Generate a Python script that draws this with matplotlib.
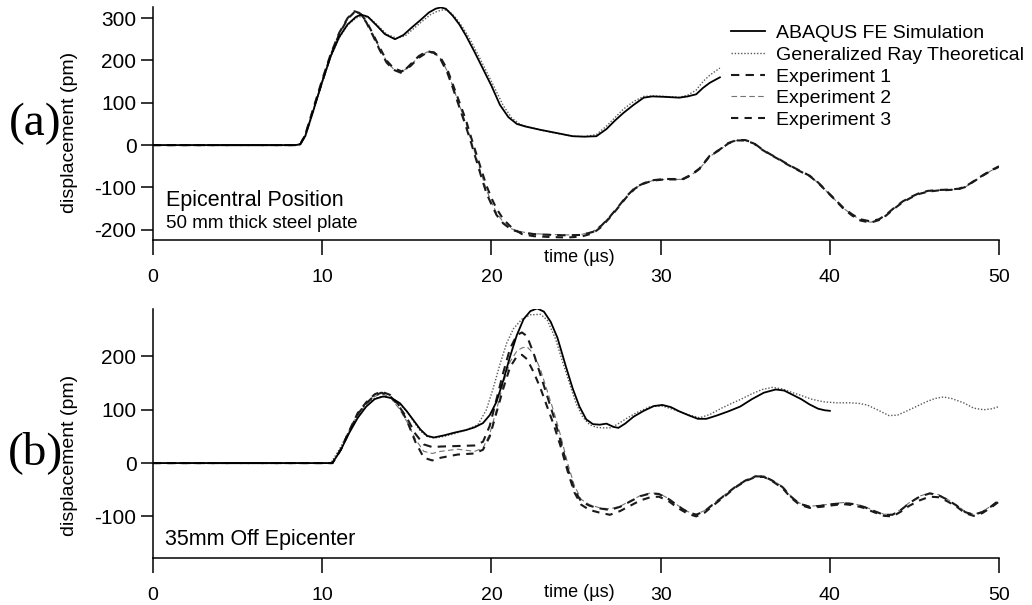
import matplotlib
matplotlib.use("Agg")
import matplotlib.pyplot as plt

plt.rcParams["font.family"] = ["Liberation Sans", "DejaVu Sans"]
plt.rcParams["axes.unicode_minus"] = False

# ---- panel (a): epicentral position ----
t_a_sim = [0, 8.4, 8.7, 9.0, 9.5, 10.0, 10.5, 11.0, 11.5, 12.0, 12.3, 12.7, 13.2, 13.7, 14.3,
           14.8, 15.3, 15.8, 16.3, 16.7, 17.0, 17.3, 17.7, 18.1, 18.5, 19.0, 19.5, 20.0, 20.5,
           21.0, 21.5, 22.0, 22.9, 23.8, 24.8, 25.5, 26.2, 26.8, 27.3, 27.8, 28.4, 29.0, 29.5,
           30.2, 31.1, 31.6, 32.1, 32.5, 32.9, 33.5]
d_a_sim = [0, 0, 2, 22, 85, 150, 210, 255, 285, 303, 308, 303, 283, 262, 250,
           260, 278, 295, 313, 322, 325, 322, 306, 285, 258, 220, 180, 140, 95,
           66, 50, 44, 36, 29, 21, 20, 21, 38, 58, 76, 95, 112, 115,
           114, 112, 115, 120, 135, 147, 160]

t_a_ray = [0, 8.4, 8.7, 9.0, 9.5, 10.0, 10.5, 11.0, 11.5, 12.0, 12.4, 12.8, 13.3, 13.8, 14.4,
           14.9, 15.4, 15.9, 16.4, 16.8, 17.2, 17.5, 17.9, 18.3, 18.7, 19.2, 19.7, 20.2, 20.7,
           21.2, 21.7, 22.2, 23.0, 23.8, 24.8, 25.5, 26.2, 26.8, 27.3, 27.8, 28.4, 29.0, 29.5,
           30.2, 31.1, 31.6, 32.1, 32.5, 32.9, 33.5]
d_a_ray = [0, 0, 2, 20, 82, 148, 208, 253, 283, 300, 305, 300, 282, 262, 252,
           258, 275, 292, 308, 316, 320, 316, 300, 278, 252, 214, 174, 134, 93,
           64, 49, 43, 35, 28, 21, 20, 25, 45, 65, 85, 103, 115, 116,
           115, 113, 118, 130, 150, 165, 182]

t_a_exp = [0, 8.4, 8.7, 9.0, 9.5, 10.0, 10.5, 11.0, 11.5, 11.9, 12.2, 12.6, 13.0, 13.4, 13.8,
           14.2, 14.7, 15.2, 15.7, 16.2, 16.6, 17.0, 17.4, 17.7, 18.1, 18.5, 18.8, 19.1, 19.4,
           19.7, 20.0, 20.3, 20.7, 21.2, 21.8, 22.5, 23.5, 24.5, 25.3, 26.0, 26.5, 27.0, 27.5,
           28.0, 28.5, 29.0, 29.5, 30.2, 30.8, 31.3, 31.8, 32.3, 32.9, 33.5, 34.0, 34.5, 35.0,
           35.5, 36.0, 36.5, 37.0, 37.5, 38.2, 38.8, 39.3, 39.8, 40.3, 40.8, 41.3, 41.8, 42.4,
           42.9, 43.3, 43.8, 44.3, 44.8, 45.3, 45.8, 46.4, 47.0, 47.6, 48.0, 48.5, 49.0, 49.5, 50.0]
d_a_exp1 = [0, 0, 2, 25, 90, 155, 215, 265, 300, 316, 312, 290, 258, 224, 195,
            178, 170, 190, 210, 222, 218, 202, 170, 137, 90, 43, 5, -35, -75,
            -113, -140, -165, -185, -200, -207, -210, -212, -213, -212, -205, -190, -169, -145,
            -120, -100, -90, -83, -80, -80, -80, -70, -55, -25, -10, 5, 12, 12,
            5, -10, -22, -33, -45, -60, -72, -88, -108, -128, -148, -163, -175, -180,
            -175, -165, -148, -133, -122, -113, -108, -106, -105, -103, -98, -85, -72, -60, -50]
d_a_exp2 = [0, 0, 2, 24, 88, 152, 212, 262, 298, 312, 310, 292, 262, 228, 198,
            180, 172, 188, 208, 220, 218, 204, 174, 140, 95, 50, 10, -28, -68,
            -105, -135, -160, -182, -198, -205, -209, -211, -212, -211, -204, -189, -168, -145,
            -121, -101, -91, -84, -81, -81, -81, -71, -56, -27, -11, 4, 11, 11,
            4, -11, -23, -34, -46, -61, -73, -89, -109, -129, -149, -164, -176, -182,
            -177, -166, -149, -134, -123, -114, -109, -107, -106, -104, -99, -86, -73, -61, -51]
d_a_exp3 = [0, 0, 2, 24, 88, 150, 212, 262, 298, 314, 313, 293, 262, 230, 200,
            182, 174, 186, 206, 219, 219, 206, 178, 145, 102, 58, 18, -20, -58,
            -95, -125, -150, -175, -195, -210, -215, -217, -218, -216, -208, -193, -171, -147,
            -122, -102, -91, -84, -81, -81, -81, -71, -56, -26, -11, 4, 11, 11,
            4, -11, -23, -34, -46, -61, -73, -89, -109, -129, -150, -166, -178, -183,
            -177, -167, -150, -135, -124, -115, -110, -107, -106, -104, -99, -86, -73, -61, -51]

# ---- panel (b): 35 mm off epicenter ----
t_b_sim = [0, 10.6, 11.1, 11.6, 12.1, 12.6, 13.1, 13.6, 14.1, 14.6, 15.0, 15.4, 15.8, 16.2,
           16.6, 17.2, 17.8, 18.5, 19.0, 19.5, 19.9, 20.3, 20.7, 21.1, 21.5, 21.9, 22.3, 22.7,
           23.1, 23.5, 23.9, 24.4, 24.8, 25.2, 25.6, 26.0, 26.4, 26.8, 27.2, 27.5, 27.9, 28.4,
           29.0, 29.6, 30.1, 30.6, 31.1, 31.7, 32.2, 32.7, 33.3, 34.0, 34.7, 35.4, 36.1, 36.8,
           37.3, 37.8, 38.3, 38.8, 39.3, 39.7, 40.0]
d_b_sim = [0, 0, 25, 57, 85, 106, 120, 125, 122, 112, 97, 80, 63, 51,
           48, 52, 57, 62, 67, 75, 90, 115, 155, 200, 240, 270, 285, 290,
           284, 265, 235, 181, 140, 106, 82, 73, 72, 74, 68, 66, 74, 87,
           98, 107, 109, 105, 97, 89, 83, 83, 89, 97, 106, 120, 132, 138,
           136, 128, 120, 110, 102, 99, 98]

t_b_ray = [0, 10.5, 11.0, 11.5, 12.0, 12.5, 13.0, 13.5, 14.0, 14.5, 15.0, 15.4, 15.8, 16.2,
           16.6, 17.2, 17.8, 18.5, 19.2, 19.7, 20.1, 20.5, 20.9, 21.3, 21.8, 22.3, 22.9, 23.3,
           23.8, 24.2, 24.6, 25.0, 25.4, 25.8, 26.2, 26.6, 27.0, 27.4, 28.0, 28.6, 29.4, 30.1,
           30.8, 31.7, 32.3, 32.9, 33.6, 34.2, 34.7, 35.4, 36.0, 36.6, 37.2, 37.8, 38.2, 38.9,
           39.6, 40.4, 41.2, 41.7, 42.2, 42.8, 43.5, 44.0, 44.5, 45.1, 45.7, 46.2, 46.7, 47.2,
           47.9, 48.5, 49.1, 49.6, 50.0]
d_b_ray = [0, 0, 25, 55, 85, 108, 120, 125, 122, 113, 97, 78, 60, 50,
           47, 50, 55, 62, 72, 100, 140, 185, 225, 252, 270, 278, 279, 268,
           232, 190, 151, 112, 86, 72, 67, 66, 66, 72, 84, 95, 106, 107,
           100, 90, 85, 91, 103, 112, 119, 130, 138, 142, 139, 132, 128, 120,
           115, 113, 113, 112, 109, 100, 89, 90, 97, 106, 115, 121, 124, 121,
           113, 103, 100, 102, 106]

t_b_exp = [0, 10.6, 11.1, 11.6, 12.1, 12.6, 13.1, 13.5, 14.0, 14.5, 15.0, 15.5, 16.0, 16.5,
           17.0, 18.0, 19.0, 19.5, 19.9, 20.3, 20.7, 21.1, 21.5, 21.8, 22.1, 22.5, 22.9, 23.3,
           23.7, 24.1, 24.5, 24.9, 25.3, 25.8, 26.4, 27.0, 27.6, 28.2, 28.8, 29.4, 29.9, 30.5,
           31.0, 31.6, 32.1, 32.6, 33.2, 33.8, 34.4, 35.0, 35.6, 36.1, 36.6, 37.2, 37.7, 38.2,
           38.8, 39.5, 40.2, 40.8, 41.4, 42.0, 42.6, 43.2, 43.7, 44.2, 44.7, 45.3, 45.9, 46.4,
           46.9, 47.5, 48.0, 48.5, 49.0, 49.5, 50.0]
d_b_exp1 = [0, 0, 25, 60, 92, 112, 127, 132, 126, 108, 85, 55, 35, 30,
            31, 32, 33, 40, 70, 120, 170, 215, 240, 245, 238, 205, 165, 125,
            85, 40, -10, -50, -72, -80, -85, -88, -82, -72, -62, -57, -58, -68,
            -80, -92, -97, -90, -75, -60, -45, -33, -25, -25, -33, -45, -63, -76,
            -82, -80, -77, -75, -77, -82, -90, -97, -97, -88, -75, -63, -57, -60,
            -68, -80, -92, -97, -92, -82, -70]
d_b_exp2 = [0, 0, 24, 58, 90, 110, 125, 130, 124, 104, 78, 45, 22, 18,
            22, 26, 22, 28, 55, 100, 150, 190, 210, 216, 218, 205, 175, 135,
            95, 50, 0, -42, -68, -78, -84, -86, -81, -71, -61, -56, -57, -67,
            -79, -91, -96, -89, -74, -59, -44, -32, -24, -24, -32, -44, -62, -75,
            -81, -79, -76, -74, -76, -81, -89, -96, -96, -87, -74, -62, -56, -59,
            -67, -79, -91, -96, -91, -81, -69]
d_b_exp3 = [0, 0, 26, 61, 94, 114, 129, 134, 128, 110, 80, 40, 10, 5,
            10, 16, 18, 25, 50, 95, 140, 180, 200, 203, 195, 170, 140, 105,
            70, 30, -15, -55, -78, -88, -93, -97, -90, -80, -70, -64, -63, -72,
            -84, -95, -100, -93, -77, -62, -46, -34, -26, -26, -34, -47, -65, -78,
            -84, -82, -79, -77, -79, -84, -92, -99, -100, -91, -80, -70, -63, -64,
            -71, -82, -94, -99, -94, -84, -72]

xticks = [0, 10, 20, 30, 40, 50]

fig = plt.figure(figsize=(10.32, 6.05), dpi=100)
ax_a = fig.add_axes([0.1483, 0.6033, 0.8198, 0.3851])
ax_b = fig.add_axes([0.1483, 0.0777, 0.8198, 0.4116])

ray_style = dict(color="0.35", lw=1.0, linestyle=(0, (1, 1.3)))
sim_style = dict(color="black", lw=1.3)
e1_style = dict(color="0.1", lw=1.5, linestyle=(0, (4, 3)))
e2_style = dict(color="0.45", lw=0.8, linestyle=(0, (5, 3)))
e3_style = dict(color="0.1", lw=1.5, linestyle=(0, (3.5, 3)))


def style_axes(ax, yticks, label_y):
    for s in ("top", "right"):
        ax.spines[s].set_visible(False)
    ax.spines["left"].set_linewidth(1.1)
    ax.spines["bottom"].set_linewidth(1.1)
    ax.set_xlim(0, 50)
    ax.set_xticks(xticks)
    ax.set_yticks(yticks)
    ax.tick_params(axis="x", direction="out", length=11, width=1.1, pad=10, labelsize=14)
    ax.tick_params(axis="y", direction="out", length=9, width=1.1, pad=3, labelsize=15)
    ax.set_ylabel("displacement (pm)", fontsize=14)
    ax.yaxis.set_label_coords(-0.0887, label_y)


# panel (a)
ax_a.plot(t_a_ray, d_a_ray, label="Generalized Ray Theoretical", **ray_style)
ax_a.plot(t_a_exp, d_a_exp2, label="Experiment 2", **e2_style)
ax_a.plot(t_a_exp, d_a_exp1, label="Experiment 1", **e1_style)
ax_a.plot(t_a_exp, d_a_exp3, label="Experiment 3", **e3_style)
ax_a.plot(t_a_sim, d_a_sim, label="ABAQUS FE Simulation", **sim_style)
ax_a.set_ylim(-224, 326)
style_axes(ax_a, [-200, -100, 0, 100, 200, 300], 0.46)
ax_a.text(0.74, -130, "Epicentral Position", fontsize=15.5, va="center")
ax_a.text(0.74, -184, "50 mm thick steel plate", fontsize=13.5, va="center")
ax_a.text(25.2, -265, "time (\u00b5s)", fontsize=13, ha="center", va="center", clip_on=False)

handles, labels = ax_a.get_legend_handles_labels()
order = ["ABAQUS FE Simulation", "Generalized Ray Theoretical", "Experiment 1", "Experiment 2", "Experiment 3"]
hmap = dict(zip(labels, handles))
ax_a.legend([hmap[k] for k in order], order, loc="upper left",
            bbox_to_anchor=(0.6624, 1.0), frameon=False, fontsize=14,
            handlelength=1.75, handletextpad=0.57, labelspacing=0.21,
            borderpad=0, borderaxespad=0.9)

# panel (b)
ax_b.plot(t_b_ray, d_b_ray, **ray_style)
ax_b.plot(t_b_exp, d_b_exp2, **e2_style)
ax_b.plot(t_b_exp, d_b_exp1, **e1_style)
ax_b.plot(t_b_exp, d_b_exp3, **e3_style)
ax_b.plot(t_b_sim, d_b_sim, **sim_style)
ax_b.set_ylim(-178, 289)
style_axes(ax_b, [-100, 0, 100, 200], 0.41)
ax_b.text(0.68, -144, "35mm Off Epicenter", fontsize=15.5, va="center")
ax_b.text(25.2, -242, "time (\u00b5s)", fontsize=13, ha="center", va="center", clip_on=False)

fig.text(35 / 1032, 1 - 124 / 605, "(a)", fontsize=34, family="Liberation Serif",
         ha="center", va="center")
fig.text(35 / 1032, 1 - 453 / 605, "(b)", fontsize=34, family="Liberation Serif",
         ha="center", va="center")

fig.savefig("out.png", dpi=100)
